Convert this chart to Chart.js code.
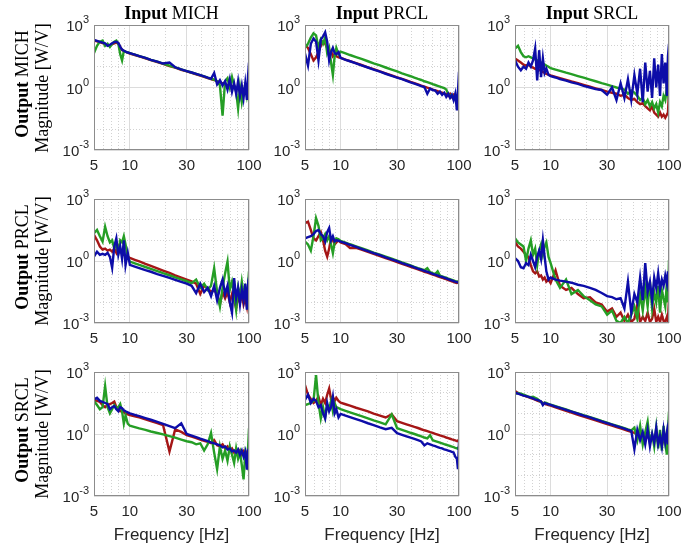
<!DOCTYPE html>
<html>
<head>
<meta charset="utf-8">
<script src="https://cdn.jsdelivr.net/npm/chart.js@4.4.1/dist/chart.umd.min.js"></script>
<style>
  body { margin: 0; background: #fff; width: 686px; height: 554px; position: relative; overflow: hidden; }
  canvas { position: absolute; left: 0; top: 0; }
  .txt { position: absolute; white-space: nowrap; color: #000; }
  .serif { font-family: "Liberation Serif", "Times New Roman", serif; font-size: 18px; }
  .sans { font-family: "Liberation Sans", Arial, sans-serif; font-size: 17px; color: #262626; }
</style>
</head>
<body>
<script>
// frequency grid [Hz] shared by every trace
const freqHz = [5, 5.3, 5.6, 5.9, 6.2, 6.5, 6.8, 7.1, 7.4, 7.7, 8, 8.3, 8.6, 8.9, 9.2, 9.6, 10,
  11, 12, 13.5, 15, 17, 19, 21.5, 24, 27, 30,
  33, 36, 39, 42, 45, 48, 51, 54, 57, 60, 63, 66, 69, 72, 75, 78, 81, 84, 87, 90, 93, 96, 98, 100];

const inputs = ['MICH', 'PRCL', 'SRCL'];
const outputs = ['MICH', 'PRCL', 'SRCL'];
const xTickLabels = [5, 10, 30, 100];
const xGridValues = [5, 6, 7, 8, 9, 10, 20, 30, 40, 50, 60, 70, 80, 90, 100];
const yTickExponents = [-3, 0, 3];
const yGridExponents = [-3, -2, -1, 0, 1, 2, 3];

// magnitudes as log10(|H|), one value per freqHz entry
// output MICH
const outMich_inMich_red = [2.25, 2.22, 2.18, 2.13, 2.08, 2.02, 2.02, 2.08, 2.12, 2.15, 2.10, 1.95, 1.80, 1.75, 1.71, 1.67, 1.63,
  1.56, 1.49, 1.40, 1.31, 1.22, 1.13, 1.03, 0.95, 0.85, 0.77,
  0.70, 0.63, 0.57, 0.51, 0.45, 0.40, 0.36, 0.30, 0.25, 0.20, 0.15, 0.10, 0.20, 0.00, 0.10, -0.10, 0.00, -0.20, -0.10, -0.30, -0.10, -0.30, -0.20, -0.20];
const outMich_inMich_green = [1.65, 2.00, 2.20, 2.25, 2.00, 2.10, 1.95, 2.10, 2.20, 2.25, 2.10, 1.60, 1.30, 1.75, 1.72, 1.68, 1.65,
  1.58, 1.51, 1.42, 1.33, 1.24, 1.15, 1.05, 0.97, 0.87, 0.79,
  0.72, 0.65, 0.59, 0.53, 0.47, 0.42, 0.38, 0.30, 0.10, -1.35, 0.30, 0.45, 0.00, 0.50, 0.10, -0.20, -1.00, 0.00, -0.70, -0.20, 0.10, -0.40, -0.10, -0.30];
const outMich_inMich_blue = [2.28, 2.24, 2.19, 2.15, 2.12, 2.00, 2.05, 2.12, 2.18, 2.20, 2.14, 1.95, 1.82, 1.76, 1.72, 1.68, 1.65,
  1.58, 1.51, 1.42, 1.33, 1.24, 1.15, 1.20, 0.97, 0.87, 0.79,
  0.72, 0.65, 0.59, 0.53, 0.47, 0.42, 0.70, 0.15, 0.35, 0.10, 0.30, -0.10, 0.40, -0.20, 0.20, -0.30, 0.30, -0.40, 0.10, -0.50, 0.20, -0.60, 0.50, 1.20];

const outMich_inPrcl_red = [2.05, 1.90, 1.60, 1.30, 1.45, 1.70, 2.00, 2.20, 2.10, 1.90, 1.60, 1.75, 1.50, 1.60, 1.50, 1.45, 1.42,
  1.34, 1.27, 1.17, 1.08, 0.97, 0.88, 0.77, 0.68, 0.58, 0.49,
  0.41, 0.34, 0.27, 0.21, 0.15, 0.09, 0.04, -0.01, -0.05, -0.10, -0.14, -0.18, -0.22, -0.25, -0.29, -0.32, -0.40, -0.30, -0.45, -0.35, -0.50, -0.40, -0.55, -0.45];
const outMich_inPrcl_green = [1.90, 2.10, 2.40, 2.60, 2.50, 1.90, 2.30, 2.10, 2.40, 1.65, 1.90, 1.20, 0.60, 1.50, 1.90, 1.60, 1.72,
  1.64, 1.56, 1.46, 1.37, 1.26, 1.16, 1.06, 0.96, 0.86, 0.77,
  0.68, 0.61, 0.54, 0.47, 0.41, 0.36, 0.30, 0.26, 0.21, 0.16, 0.12, 0.08, 0.04, 0.01, -0.03, -0.10, -0.30, -0.40, -0.35, -0.50, -0.45, -0.60, -0.50, -0.40];
const outMich_inPrcl_blue = [1.63, 1.05, 2.10, 2.35, 2.20, 1.30, 2.30, 2.45, 2.65, 2.20, 1.30, 1.70, 1.90, 1.65, 1.60, 1.70, 1.42,
  1.33, 1.26, 1.16, 1.06, 0.96, 0.86, 0.76, 0.66, 0.56, 0.47,
  0.40, 0.32, 0.25, 0.19, 0.13, 0.07, 0.02, -0.30, -0.05, -0.12, -0.15, -0.30, -0.20, -0.35, -0.25, -0.45, -0.30, -0.50, -0.35, -0.60, -0.30, -1.10, -0.20, 0.75];

const outMich_inSrcl_red = [1.39, 1.30, 1.20, 1.10, 1.05, 1.10, 1.00, 0.95, 0.90, 0.88, 0.85, 0.80, 0.75, 0.70, 0.65, 0.62, 0.58,
  0.51, 0.45, 0.37, 0.29, 0.21, 0.13, 0.04, -0.04, -0.12, -0.20,
  -0.25, -0.30, -0.40, -0.35, -0.50, -0.60, -0.55, -0.70, -0.80, -0.75, -0.90, -1.00, -1.10, -0.90, -1.20, -1.30, -1.40, -1.20, -1.40, -1.30, -1.45, -1.30, -1.20, -0.20];
const outMich_inSrcl_green = [1.87, 2.00, 1.70, 1.50, 1.45, 1.50, 1.45, 1.40, 1.35, 1.30, 1.25, 1.20, 1.15, 1.10, 1.05, 1.00, 0.93,
  0.86, 0.80, 0.71, 0.64, 0.55, 0.47, 0.38, 0.30, 0.21, 0.14,
  0.07, 0.00, -0.05, -0.10, -0.30, -0.15, -0.25, -0.40, -0.60, -0.50, -0.80, -0.60, -0.90, -0.70, -1.00, -0.80, -1.20, -0.70, -0.90, -0.40, -0.60, 0.00, -0.30, 0.35];
const outMich_inSrcl_blue = [1.31, 1.00, 0.83, 1.00, 0.90, 1.20, 1.00, 1.30, 1.87, 0.34, 1.79, 0.50, 1.40, 0.70, 0.90, 0.60, 0.55,
  0.48, 0.40, 0.33, 0.25, 0.17, 0.08, 0.00, -0.08, -0.12, -0.35,
  0.00, -0.60, 0.20, -0.50, 0.40, -0.60, 0.60, -0.30, 0.90, -0.70, 1.20, -0.20, 0.80, -0.50, 1.40, 0.00, 1.10, -0.40, 1.60, 0.20, 1.20, -0.40, 1.50, 2.10];

// output PRCL
const outPrcl_inMich_red = [1.26, 1.00, 0.70, 0.55, 0.60, 0.50, 0.55, 0.45, 0.60, 0.40, 0.70, 0.50, 0.40, 0.30, 0.25, 0.20, 0.15,
  0.06, -0.02, -0.14, -0.24, -0.36, -0.46, -0.58, -0.69, -0.80, -0.90,
  -0.99, -1.10, -1.60, -1.20, -1.30, -1.50, -1.40, -1.60, -2.10, -1.50, -1.80, -1.50, -2.00, -1.60, -1.90, -2.30, -1.70, -2.00, -1.60, -2.10, -1.80, -2.20, -1.70, -1.90];
const outPrcl_inMich_green = [1.34, 1.50, 1.20, 0.94, 1.66, 1.20, 0.90, 1.00, 0.60, 0.80, 0.40, 1.00, 0.90, 1.20, 0.80, 0.20, -0.03,
  -0.11, -0.19, -0.29, -0.38, -0.49, -0.59, -0.69, -0.79, -0.89, -0.98,
  -1.07, -0.90, -1.30, -1.10, -1.40, -1.20, -0.35, -1.50, -2.20, -1.30, -0.60, -0.03, -1.40, -1.00, -1.60, -2.36, -1.30, -1.70, -1.00, -1.60, -1.30, -1.80, -1.20, -0.50];
const outPrcl_inMich_blue = [0.21, 0.45, 0.30, 0.35, 0.30, 0.40, 0.20, -0.33, 0.70, 1.10, 0.30, 0.70, 0.10, 1.00, -0.20, 0.40, -0.19,
  -0.27, -0.34, -0.44, -0.52, -0.63, -0.72, -0.82, -0.91, -1.01, -1.10,
  -1.20, -1.56, -1.10, -1.50, -1.30, -1.70, -1.20, -1.90, -1.30, -0.90, -1.60, -1.20, -2.00, -2.50, -0.83, -1.80, -1.30, -2.10, -1.40, -1.90, -1.10, -2.36, -1.30, -1.60];

const outPrcl_inPrcl_red = [1.83, 1.90, 1.50, 1.10, 1.00, 1.20, 1.40, 1.00, 0.50, 0.21, 0.60, 1.10, 1.00, 0.80, 0.90, 1.00, 0.90,
  0.82, 0.63, 0.64, 0.55, 0.44, 0.34, 0.24, 0.14, 0.04, -0.05,
  -0.14, -0.21, -0.28, -0.35, -0.41, -0.46, -0.52, -0.56, -0.61, -0.66, -0.70, -0.74, -0.78, -0.81, -0.85, -0.88, -0.92, -0.95, -0.98, -1.01, -1.04, -1.06, -1.05, -0.95];
const outPrcl_inPrcl_green = [0.94, 0.80, 0.50, 1.20, 2.07, 1.70, 1.00, 1.10, 1.30, 1.00, 1.20, 0.80, 0.38, 0.90, 1.10, 1.05, 0.97,
  0.89, 0.81, 0.71, 0.62, 0.51, 0.41, 0.31, 0.21, 0.11, 0.02,
  -0.07, -0.14, -0.21, -0.28, -0.34, -0.39, -0.45, -0.35, -0.54, -0.59, -0.63, -0.50, -0.71, -0.74, -0.78, -0.81, -0.85, -0.88, -0.91, -0.94, -0.97, -0.99, -1.01, -1.03];
const outPrcl_inPrcl_blue = [1.10, 1.15, 1.20, 1.30, 1.45, 1.50, 1.30, 1.20, 0.94, 1.40, 1.60, 1.00, 1.20, 0.95, 1.00, 0.98, 0.94,
  0.86, 0.78, 0.68, 0.59, 0.48, 0.38, 0.28, 0.18, 0.08, -0.01,
  -0.10, -0.17, -0.24, -0.31, -0.37, -0.42, -0.48, -0.52, -0.57, -0.62, -0.66, -0.70, -0.74, -0.77, -0.81, -0.84, -0.88, -0.91, -0.94, -0.97, -1.00, -1.02, -1.04, -1.06];

const outPrcl_inSrcl_red = [0.94, 0.70, 0.60, 0.45, 0.30, 0.20, -0.20, -0.50, -0.60, -0.50, -0.75, -0.70, -0.90, -0.80, -1.00, -0.90, -1.07,
  -0.45, -1.20, -1.40, -1.30, -1.60, -1.80, -1.75, -2.00, -2.10, -2.45,
  -2.30, -2.70, -2.50, -2.90, -2.60, -2.95, -2.80, -2.10, -2.95, -2.70, -2.90, -2.50, -2.95, -2.80, -2.30, -2.95, -2.70, -2.95, -2.60, -2.90, -2.95, -2.70, -2.90, -1.80];
const outPrcl_inSrcl_green = [1.10, 0.90, 0.80, 0.70, 0.00, 0.60, 1.00, 0.30, 0.60, -0.20, 0.50, 0.80, 0.30, 0.70, 0.90, 0.20, -0.10,
  -0.90, -1.30, -0.90, -1.60, -1.40, -1.70, -1.90, -2.10, -2.20, -2.60,
  -2.40, -2.90, -3.00, -2.70, -3.00, -2.60, -2.20, -2.80, -1.60, -2.40, -1.30, -2.20, -1.00, -2.30, -1.50, -2.00, -1.20, -2.50, -1.40, -1.80, -2.20, -1.00, -2.00, 0.05];
const outPrcl_inSrcl_blue = [0.14, 0.00, -0.30, -0.35, -0.10, -0.20, 0.30, 0.00, -0.30, 0.20, 0.50, 0.10, 1.00, 0.20, -0.50, -0.90, -0.80,
  -0.90, -0.95, -1.00, -1.05, -1.15, -1.20, -1.30, -1.40, -1.55, -1.70,
  -1.75, -1.85, -1.80, -2.30, -1.00, -2.50, -1.60, -2.00, -0.80, -1.90, -0.10, -1.50, -1.00, -1.90, -0.80, -1.30, -0.60, -1.40, -0.90, -1.20, -0.70, -1.10, -0.50, -1.00];

// output SRCL
const outSrcl_inMich_red = [1.65, 1.60, 1.55, 1.40, 1.30, 1.40, 1.45, 1.50, 1.57, 1.30, 1.20, 1.10, 1.15, 1.05, 1.00, 0.95, 0.92,
  0.86, 0.80, 0.71, 0.63, 0.53, 0.43, -0.85, 0.22, 0.10, -0.05,
  -0.13, -0.20, -0.27, -0.33, -0.38, -0.44, -0.30, -0.55, -0.60, -0.50, -0.70, -0.60, -0.80, -0.70, -0.90, -0.75, -0.95, -0.80, -1.00, -0.85, -1.10, -0.90, -1.00, -0.90];
const outSrcl_inMich_green = [1.60, 1.40, 1.20, 1.30, 2.32, 1.30, 1.00, 1.20, 1.40, 1.25, 1.30, 1.45, 1.10, 0.50, 0.90, 0.50, 0.40,
  0.33, 0.27, 0.20, 0.12, 0.05, -0.02, -0.10, -0.18, -0.27, -0.35,
  -0.40, -0.50, -0.45, -0.80, -0.50, 0.05, -0.90, -1.70, -0.60, -1.20, -0.80, -1.30, -0.60, -1.00, -1.40, -0.70, -1.20, -0.90, -1.50, -2.20, -1.00, -1.40, -0.80, 0.28];
const outSrcl_inMich_blue = [1.68, 1.75, 1.60, 1.55, 1.50, 1.45, 1.20, 1.30, 1.35, 1.20, 1.10, 1.30, 1.25, 1.15, 1.10, 1.05, 1.00,
  0.93, 0.86, 0.77, 0.69, 0.59, 0.49, 0.38, 0.28, 0.52, 0.00,
  -0.08, -0.15, -0.22, -0.28, -0.34, -0.40, -0.45, -0.50, -0.55, -0.65, -0.60, -0.75, -0.70, -0.85, -0.80, -0.90, -0.75, -1.00, -0.80, -1.10, -0.85, -1.73, -0.90, -1.00];

const outSrcl_inPrcl_red = [2.37, 1.90, 1.70, 1.50, 1.60, 1.80, 1.40, 1.70, 1.50, 1.90, 2.20, 1.70, 1.80, 1.60, 1.75, 1.60, 1.52,
  1.44, 1.37, 1.27, 1.19, 1.09, 0.99, 0.89, 0.80, 0.95, 0.62,
  0.54, 0.47, 0.40, 0.34, 0.29, 0.23, 0.18, 0.14, 0.09, 0.05, 0.01, -0.03, -0.07, -0.10, -0.13, -0.17, -0.20, -0.23, -0.26, -0.28, -0.31, -0.34, -0.35, -0.25];
const outSrcl_inPrcl_green = [1.40, 1.45, 1.50, 1.60, 2.85, 1.50, 0.75, 1.30, 0.80, 1.40, 1.20, 1.60, 1.10, 1.50, 1.30, 1.25, 1.20,
  1.12, 1.05, 0.95, 0.86, 0.76, 0.66, 0.56, 0.47, 0.95, 0.28,
  0.20, 0.13, 0.06, 0.00, -0.06, -0.11, -0.17, -0.21, -0.06, -0.30, -0.34, -0.38, -0.42, -0.45, -0.49, -0.52, -0.55, -0.58, -0.61, -0.64, -0.67, -0.69, -0.71, -0.60];
const outSrcl_inPrcl_blue = [1.65, 1.90, 1.50, 1.70, 1.60, 1.30, 1.40, 1.00, 0.75, 1.50, 1.10, 1.30, 1.80, 1.00, 1.20, 0.80, 0.97,
  0.89, 0.82, 0.72, 0.63, 0.52, 0.43, 0.32, 0.23, 0.30, 0.04,
  -0.04, -0.11, -0.18, -0.24, -0.30, -0.36, -0.55, -0.45, -0.50, -0.55, -0.59, -0.63, -0.67, -0.70, -0.74, -0.77, -0.80, -0.83, -0.86, -0.89, -1.10, -1.20, -1.70, -0.40];

const outSrcl_inSrcl_red = [2.08, 1.98, 1.92, 1.87, 1.82, 1.78, 1.74, 1.70, 1.66, 1.62, 1.58, 1.55, 1.50, 1.47, 1.43, 1.40, 1.37,
  1.29, 1.22, 1.12, 1.03, 0.93, 0.84, 0.75, 0.66, 0.56, 0.48,
  0.40, 0.33, 0.27, 0.21, 0.15, 0.10, 0.05, 0.00, -0.05, -0.08, -0.12, -0.16, -0.20, -0.23, -0.26, -0.30, -0.32, -0.35, -0.38, -0.40, -0.43, -0.46, -0.48, -0.52];
const outSrcl_inSrcl_green = [1.95, 1.98, 1.95, 1.90, 1.86, 1.80, 1.78, 1.80, 1.75, 1.70, 1.62, 1.55, 1.45, 1.52, 1.50, 1.45, 1.42,
  1.35, 1.28, 1.19, 1.10, 1.00, 0.91, 0.82, 0.73, 0.63, 0.55,
  0.47, 0.40, 0.34, 0.28, 0.22, 0.17, 0.30, -0.30, 0.40, -0.50, 0.10, 0.60, -0.40, 0.00, -0.60, 0.30, -0.70, 0.20, -0.80, 0.40, -0.50, -1.00, 0.20, 1.08];
const outSrcl_inSrcl_blue = [2.00, 1.95, 1.90, 1.86, 1.83, 1.80, 1.76, 1.72, 1.68, 1.65, 1.62, 1.58, 1.40, 1.50, 1.47, 1.44, 1.41,
  1.33, 1.26, 1.17, 1.08, 0.98, 0.89, 0.80, 0.71, 0.61, 0.53,
  0.45, 0.38, 0.32, 0.26, 0.20, 0.15, -0.74, 0.20, -0.30, 0.10, -0.50, 0.20, -0.60, 0.00, -0.40, 0.30, -0.50, -0.10, -0.60, 0.20, -0.40, 0.10, -0.50, 0.68];

// rows = output, cols = input
const traces = [
  [[outMich_inMich_red, outMich_inMich_green, outMich_inMich_blue],
   [outMich_inPrcl_red, outMich_inPrcl_green, outMich_inPrcl_blue],
   [outMich_inSrcl_red, outMich_inSrcl_green, outMich_inSrcl_blue]],
  [[outPrcl_inMich_red, outPrcl_inMich_green, outPrcl_inMich_blue],
   [outPrcl_inPrcl_red, outPrcl_inPrcl_green, outPrcl_inPrcl_blue],
   [outPrcl_inSrcl_red, outPrcl_inSrcl_green, outPrcl_inSrcl_blue]],
  [[outSrcl_inMich_red, outSrcl_inMich_green, outSrcl_inMich_blue],
   [outSrcl_inPrcl_red, outSrcl_inPrcl_green, outSrcl_inPrcl_blue],
   [outSrcl_inSrcl_red, outSrcl_inSrcl_green, outSrcl_inSrcl_blue]]
];

const lineColors = ['#a51616', '#259e25', '#0d0da8'];

// plot boxes in page pixels
const colLeft = [94, 305, 515], colRight = [249, 459, 669];
const rowTop = [25, 199, 372], rowBottom = [150, 323, 496];
const W = 686, H = 554;

const sansFont = '"Liberation Sans", Arial, sans-serif';

const axisText = {
  id: 'axisText',
  afterDraw(chart) {
    const { ctx, chartArea: a, scales: { x, y } } = chart;
    ctx.save();
    ctx.strokeStyle = '#8c8c8c';
    ctx.lineWidth = 1;
    ctx.strokeRect(a.left + 0.5, a.top + 0.5, a.right - a.left - 1, a.bottom - a.top - 1);

    ctx.fillStyle = '#262626';
    ctx.font = '15px ' + sansFont;
    ctx.textAlign = 'center';
    ctx.textBaseline = 'middle';
    xTickLabels.forEach(v => ctx.fillText(String(v), x.getPixelForValue(v), a.bottom + 16));

    ctx.textAlign = 'left';
    yTickExponents.forEach(e => {
      const py = y.getPixelForValue(Math.pow(10, e));
      ctx.font = '11px ' + sansFont;
      const we = ctx.measureText(String(e)).width;
      ctx.font = '15px ' + sansFont;
      const wb = ctx.measureText('10').width;
      const xr = a.left - 5;
      ctx.fillText('10', xr - we - wb, py + 2);
      ctx.font = '11px ' + sansFont;
      ctx.fillText(String(e), xr - we, py - 5);
    });
    ctx.restore();
  }
};

function isMajorX(v) { return xTickLabels.includes(v); }
function isMajorY(v) { return Math.round(Math.log10(v)) % 3 === 0; }

function makePanel(row, col) {
  const cv = document.createElement('canvas');
  cv.width = W; cv.height = H;
  cv.style.width = W + 'px'; cv.style.height = H + 'px';
  document.body.appendChild(cv);

  // red underneath, blue on top
  const datasets = traces[row][col].map((vals, k) => ({
    data: vals.map((v, i) => ({ x: freqHz[i], y: Math.pow(10, v) })),
    borderColor: lineColors[k],
    borderWidth: 2.4,
    pointRadius: 0,
    tension: 0,
    fill: false,
    order: 2 - k
  }));

  new Chart(cv, {
    type: 'line',
    data: { datasets },
    options: {
      responsive: false,
      animation: false,
      events: [],
      layout: { padding: { left: colLeft[col], top: rowTop[row], right: W - colRight[col], bottom: H - rowBottom[row] } },
      plugins: { legend: { display: false }, tooltip: { enabled: false } },
      scales: {
        x: {
          type: 'logarithmic', min: 5, max: 100,
          afterBuildTicks: s => { s.ticks = xGridValues.map(v => ({ value: v })); },
          ticks: { display: false },
          grid: {
            drawTicks: false,
            lineWidth: 1,
            color: c => (c.tick && isMajorX(c.tick.value)) ? '#dcdcdc' : '#d2d2d2'
          },
          border: { display: false, dash: c => (c.tick && !isMajorX(c.tick.value)) ? [1, 2] : [] }
        },
        y: {
          type: 'logarithmic', min: 1e-3, max: 1e3,
          afterBuildTicks: s => { s.ticks = yGridExponents.map(e => ({ value: Math.pow(10, e) })); },
          ticks: { display: false },
          grid: {
            drawTicks: false,
            lineWidth: 1,
            color: c => (c.tick && isMajorY(c.tick.value)) ? '#dcdcdc' : '#d2d2d2'
          },
          border: { display: false, dash: c => (c.tick && !isMajorY(c.tick.value)) ? [1, 2] : [] }
        }
      }
    },
    plugins: [axisText]
  });
}

for (let r = 0; r < 3; r++) {
  for (let c = 0; c < 3; c++) makePanel(r, c);
}

function addText(html, cls, x, y, rotate) {
  const d = document.createElement('div');
  d.className = 'txt ' + cls;
  d.innerHTML = html;
  d.style.left = x + 'px';
  d.style.top = y + 'px';
  d.style.transform = 'translate(-50%, -50%)' + (rotate ? ' rotate(-90deg)' : '');
  document.body.appendChild(d);
}

inputs.forEach((name, c) => {
  addText('<b>Input</b> ' + name, 'serif', (colLeft[c] + colRight[c]) / 2, 13, false);
  addText('Frequency [Hz]', 'sans', (colLeft[c] + colRight[c]) / 2, 535, false);
});
outputs.forEach((name, r) => {
  const cy = (rowTop[r] + rowBottom[r]) / 2;
  addText('<b>Output</b> ' + name, 'serif', 22, cy - 4, true);
  addText('Magnitude [W/V]', 'serif', 42, cy, true);
});
</script>
</body>
</html>
